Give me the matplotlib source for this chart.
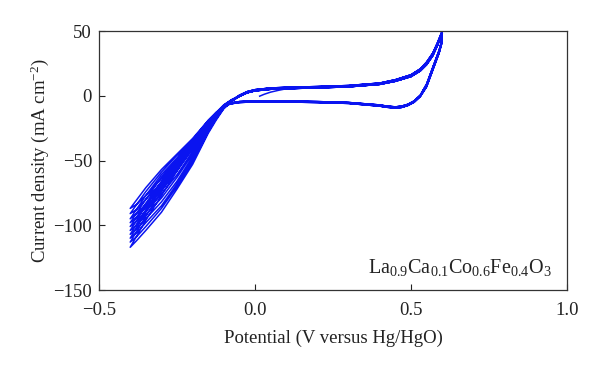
import matplotlib
matplotlib.use("Agg")
import matplotlib.pyplot as plt

plt.rcParams['font.family'] = ['Liberation Serif', 'DejaVu Serif']
plt.rcParams['mathtext.fontset'] = 'custom'
plt.rcParams['mathtext.rm'] = 'Liberation Serif'
plt.rcParams['mathtext.it'] = 'Liberation Serif:italic'
plt.rcParams['mathtext.bf'] = 'Liberation Serif:bold'

# Potential grids (V vs Hg/HgO)
E_init = [0.015, 0.03, 0.05, 0.075, 0.10, 0.20, 0.30, 0.40, 0.45, 0.50, 0.53, 0.55, 0.57, 0.585, 0.60]
I_init = [-0.3, 1.2, 2.8, 4.2, 5.4, 6.3, 7.2, 9.0, 11.5, 15.0, 19.5, 24.5, 31.5, 39.5, 49.0]

E_cath = [0.600, 0.598, 0.59, 0.57, 0.55, 0.53, 0.51, 0.49, 0.47, 0.45, 0.42, 0.40,
          0.30, 0.20, 0.10, 0.00, -0.05, -0.08,
          -0.10, -0.125, -0.15, -0.20, -0.25, -0.30, -0.35, -0.40]
E_anod = [-0.40, -0.38, -0.35, -0.30, -0.25, -0.20, -0.15, -0.125, -0.10, -0.075,
          -0.05, -0.025, 0.00, 0.05, 0.10, 0.20, 0.30, 0.40, 0.45, 0.50, 0.53, 0.55, 0.57, 0.585, 0.60]

# Current density (mA cm^-2), one list per cycle
cathodic = [
    [49, 41, 34, 21, 8, 0.0, -4.5, -7.0, -8.5, -9.0, -8.3, -7.5, -5.5, -4.8, -4.4, -4.3, -4.8, -6.0,
     -9.0, -15, -22, -40, -58, -77, -96, -117],
    [48, 40, 33, 20, 7, -0.5, -5.0, -7.5, -9.0, -9.5, -8.8, -8.0, -5.9, -5.2, -4.8, -4.7, -5.2, -6.3,
     -9.0, -15, -22, -39, -56, -74, -93, -113],
    [50, 42, 35, 22, 9, 0.5, -4.0, -6.6, -8.0, -8.6, -7.9, -7.1, -5.2, -4.5, -4.1, -4.0, -4.5, -5.8,
     -8.8, -14.5, -21, -38, -55, -72, -90, -110],
    [49, 41, 34, 21, 8, 0.0, -4.5, -7.0, -8.5, -9.0, -8.3, -7.5, -5.5, -4.8, -4.4, -4.3, -4.8, -6.0,
     -8.7, -14.5, -21, -37, -53, -70, -88, -107],
    [48, 40, 33, 20, 7, -0.5, -5.0, -7.5, -9.0, -9.5, -8.8, -8.0, -5.9, -5.2, -4.8, -4.7, -5.2, -6.3,
     -8.6, -14, -20.5, -36, -52, -68, -85, -104],
    [50, 42, 35, 22, 9, 0.5, -4.0, -6.6, -8.0, -8.6, -7.9, -7.1, -5.2, -4.5, -4.1, -4.0, -4.5, -5.8,
     -8.5, -14, -20, -36, -50, -66, -83, -101],
    [49, 41, 34, 21, 8, 0.0, -4.5, -7.0, -8.5, -9.0, -8.3, -7.5, -5.5, -4.8, -4.4, -4.3, -4.8, -6.0,
     -8.4, -13.5, -20, -35, -49, -63, -80, -98],
    [48, 40, 33, 20, 7, -0.5, -5.0, -7.5, -9.0, -9.5, -8.8, -8.0, -5.9, -5.2, -4.8, -4.7, -5.2, -6.3,
     -8.3, -13.5, -19.5, -34, -48, -61, -77, -95],
    [50, 42, 35, 22, 9, 0.5, -4.0, -6.6, -8.0, -8.6, -7.9, -7.1, -5.2, -4.5, -4.1, -4.0, -4.5, -5.8,
     -8.2, -13, -19, -34, -46, -59, -74, -91],
    [49, 41, 34, 21, 8, 0.0, -4.5, -7.0, -8.5, -9.0, -8.3, -7.5, -5.5, -4.8, -4.4, -4.3, -4.8, -6.0,
     -8.0, -13, -19, -33, -45, -57, -71, -87],
]

anodic = [
    [-117, -112, -104, -90, -72, -53, -29, -19, -10, -4.5,
     -0.5, 2.3, 3.8, 5.0, 5.5, 6.1, 6.9, 8.8, 11.2, 14.8, 19.2, 24, 31, 39, 48],
    [-113, -109, -101, -87, -70, -51, -28, -18, -9.8, -4.4,
     0.4, 3.2, 4.7, 6.0, 6.5, 7.1, 7.9, 9.8, 12.4, 16.2, 20.8, 26, 33, 41, 50],
    [-110, -106, -98, -85, -68, -49, -27, -17.5, -9.5, -4.2,
     0.0, 2.8, 4.3, 5.5, 6.0, 6.6, 7.4, 9.3, 11.8, 15.5, 20, 25, 32, 40, 49],
    [-107, -103, -95, -82, -66, -47, -26, -17, -9.2, -4.0,
     -0.5, 2.3, 3.8, 5.0, 5.5, 6.1, 6.9, 8.8, 11.2, 14.8, 19.2, 24, 31, 39, 48],
    [-104, -100, -92, -79, -63, -45, -25, -16, -8.8, -3.8,
     0.4, 3.2, 4.7, 6.0, 6.5, 7.1, 7.9, 9.8, 12.4, 16.2, 20.8, 26, 33, 41, 50],
    [-101, -97, -89, -76, -61, -43, -24, -15.5, -8.5, -3.6,
     0.0, 2.8, 4.3, 5.5, 6.0, 6.6, 7.4, 9.3, 11.8, 15.5, 20, 25, 32, 40, 49],
    [-98, -94, -86, -73, -58, -41, -23, -15, -8.0, -3.4,
     -0.5, 2.3, 3.8, 5.0, 5.5, 6.1, 6.9, 8.8, 11.2, 14.8, 19.2, 24, 31, 39, 48],
    [-95, -91, -84, -70, -55, -39, -22, -14, -7.6, -3.3,
     0.4, 3.2, 4.7, 6.0, 6.5, 7.1, 7.9, 9.8, 12.4, 16.2, 20.8, 26, 33, 41, 50],
    [-91, -88, -80, -67, -53, -38, -21, -13.5, -7.2, -3.1,
     0.0, 2.8, 4.3, 5.5, 6.0, 6.6, 7.4, 9.3, 11.8, 15.5, 20, 25, 32, 40, 49],
    [-87, -84, -77, -64, -50, -36, -20, -13, -7.0, -3.0,
     -0.5, 2.3, 3.8, 5.0, 5.5, 6.1, 6.9, 8.8, 11.2, 14.8, 19.2, 24, 31, 39, 48],
]

x_ticks = [-0.5, 0.0, 0.5, 1.0]
x_tick_labels = ["\u22120.5", "0.0", "0.5", "1.0"]
y_ticks = [-150, -100, -50, 0, 50]
y_tick_labels = ["\u2212150", "\u2212100", "\u221250", "0", "50"]

# Build one continuous trace
E_all = list(E_init)
I_all = list(I_init)
for ic, ia in zip(cathodic, anodic):
    E_all += E_cath + E_anod
    I_all += ic + ia

fig = plt.figure(figsize=(6.0, 3.71), dpi=100)
ax = fig.add_axes([0.165, 0.2183, 0.78, 0.6981])
ax.plot(E_all, I_all, color='#0a14f0', lw=1.1, solid_joinstyle='round')

ax.set_xlim(-0.5, 1.0)
ax.set_ylim(-150, 50)
ax.set_xticks(x_ticks)
ax.set_xticklabels(x_tick_labels)
ax.set_yticks(y_ticks)
ax.set_yticklabels(y_tick_labels)
ax.tick_params(direction='in', length=4.5, width=0.8, labelsize=13.5, colors='#222222',
               labelcolor='#222222')
ax.tick_params(axis='x', pad=8.5)
ax.tick_params(axis='y', pad=5)
for s in ax.spines.values():
    s.set_linewidth(0.9)
    s.set_color('#333333')

ax.set_xlabel("Potential (V versus Hg/HgO)", fontsize=13.5, color='#222222', labelpad=8)
ax.set_ylabel("Current density (mA cm$^{\u22122}$)", fontsize=13.5, color='#222222', labelpad=1.5)

ax.text(0.968, 0.085, "La$_{0.9}$Ca$_{0.1}$Co$_{0.6}$Fe$_{0.4}$O$_{3}$", transform=ax.transAxes,
        ha='right', va='center', fontsize=14.5, color='#222222')

fig.savefig("out.png", dpi=100)
